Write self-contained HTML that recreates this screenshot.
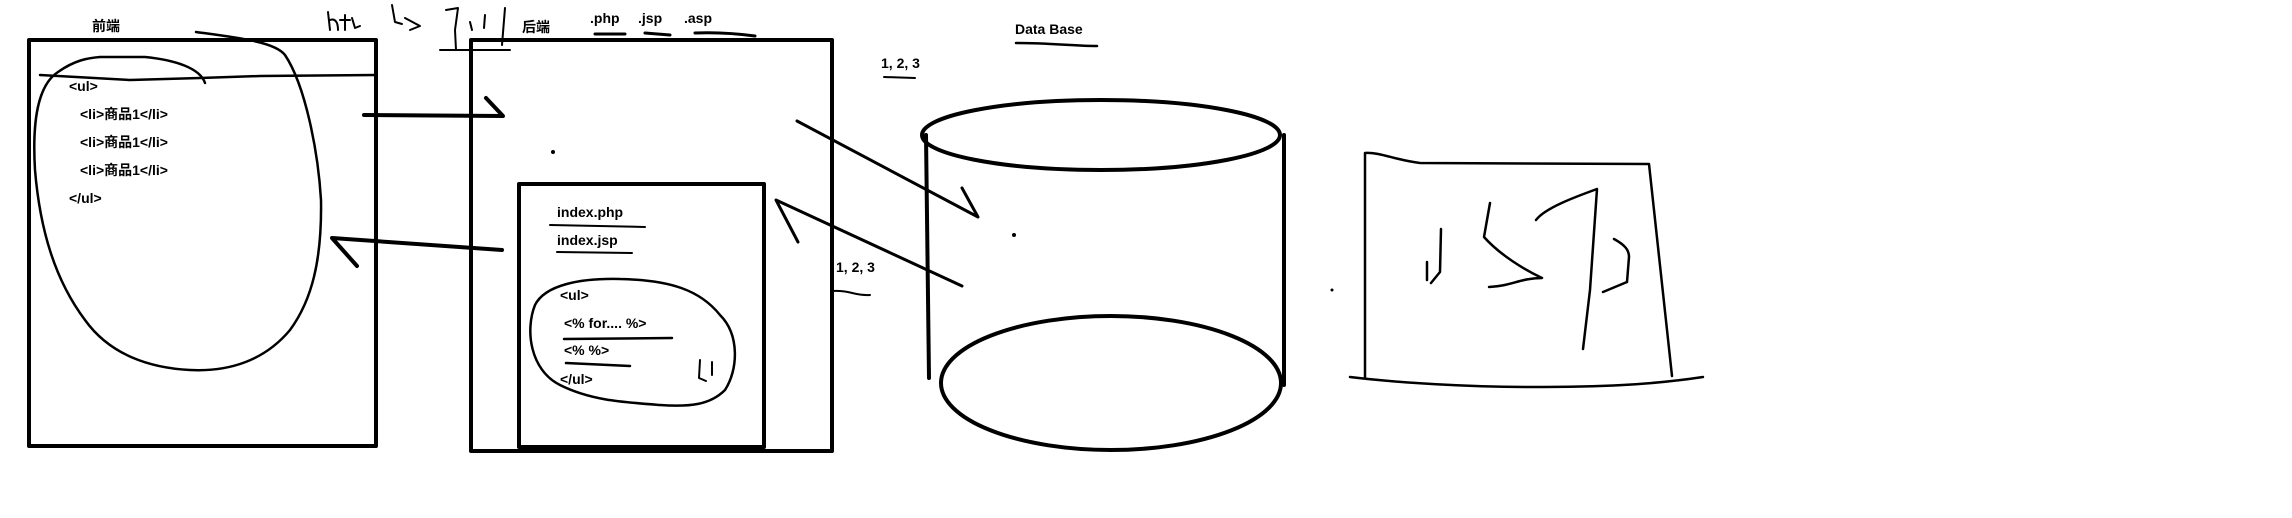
<!DOCTYPE html>
<html><head><meta charset="utf-8"><style>
html,body{margin:0;padding:0;background:#fff;width:2292px;height:518px;overflow:hidden}
svg{display:block}
text{font-family:"Liberation Sans","Noto Sans CJK SC",sans-serif;font-size:14px;font-weight:bold;fill:#000}
</style></head><body>
<svg width="2292" height="518" viewBox="0 0 2292 518" fill="none" stroke="#000" stroke-linecap="round" stroke-linejoin="round">
<!-- frontend -->
<g>
<rect x="29" y="40" width="347" height="406" stroke-width="4"/>
<path d="M40 75 L130 80 L200 78 L260 76 L376 75" stroke-width="2.5"/>
<text x="92" y="31" stroke="none">前端</text>
<text x="69" y="91" stroke="none">&lt;ul&gt;</text>
<text x="80" y="119" stroke="none">&lt;li&gt;商品1&lt;/li&gt;</text>
<text x="80" y="147" stroke="none">&lt;li&gt;商品1&lt;/li&gt;</text>
<text x="80" y="175" stroke="none">&lt;li&gt;商品1&lt;/li&gt;</text>
<text x="69" y="203" stroke="none">&lt;/ul&gt;</text>
<path stroke-width="2.5" d="M196 32 C240 38 275 42 285 55 C305 85 318 150 321 200 C322 260 312 300 290 330 C265 360 230 372 190 370 C150 368 110 355 85 320 C55 280 40 230 35 170 C32 120 38 85 58 72 C75 60 88 58 100 57 L145 57 C175 60 200 68 205 83"/>
</g>
<!-- handwritten scribble -->
<g stroke-width="2">
<path d="M328 12 L330 30 M330 20 C335 18 338 22 338 30 M345 15 L345 30 M340 20 L350 20 M352 18 L355 28 L360 26"/>
<path d="M392 5 L395 22 L402 24 M405 18 L420 26 L410 30"/>
<path d="M446 10 L458 8 L455 30 L456 50 M440 50 L510 50 M470 22 L472 30 M485 15 L484 28 M505 8 L502 45"/>
</g>
<!-- backend -->
<g>
<rect x="471" y="40" width="361" height="411" stroke-width="4"/>
<text x="522" y="32" stroke="none">后端</text>
<text x="590" y="23" stroke="none">.php</text>
<text x="638" y="23" stroke="none">.jsp</text>
<text x="684" y="23" stroke="none">.asp</text>
<path d="M595 34 L625 34 M645 33 L670 35 M695 33 C720 32 740 34 755 36" stroke-width="3"/>
<circle cx="553" cy="152" r="2" fill="#000" stroke="none"/>
<rect x="519" y="184" width="245" height="263" stroke-width="4"/>
<text x="557" y="217" stroke="none">index.php</text>
<path d="M550 225 L645 227" stroke-width="2"/>
<text x="557" y="245" stroke="none">index.jsp</text>
<path d="M557 252 L632 253" stroke-width="2"/>
<path stroke-width="2.5" d="M620 279 C670 280 700 290 720 315 C740 335 738 370 725 390 C710 405 690 407 660 405 C620 402 590 400 560 385 C530 370 525 330 535 305 C545 285 580 278 620 279"/>
<text x="560" y="300" stroke="none">&lt;ul&gt;</text>
<text x="564" y="328" stroke="none">&lt;% for.... %&gt;</text>
<path d="M564 339 L672 338" stroke-width="2.5"/>
<text x="564" y="355" stroke="none">&lt;% %&gt;</text>
<path d="M566 363 L630 366" stroke-width="2.5"/>
<text x="560" y="384" stroke="none">&lt;/ul&gt;</text>
<path d="M700 360 L699 378 L706 381 M712 362 L712 375" stroke-width="2"/>
</g>
<!-- arrows -->
<g stroke-width="4">
<path d="M364 115 L503 116 L486 98"/>
</g>
<g stroke-width="4">
<path d="M502 250 L332 238 L357 266"/>
</g>
<g stroke-width="3">
<path d="M797 121 L978 217 L962 188"/>
<path d="M962 286 L776 200 L798 242"/>
</g>
<text x="881" y="68" stroke="none">1, 2, 3</text>
<path d="M884 77 L915 78" stroke-width="2"/>
<text x="836" y="272" stroke="none">1, 2, 3</text>
<path d="M832 291 C850 290 855 296 870 295" stroke-width="2"/>
<!-- database -->
<g stroke-width="4">
<text x="1015" y="34" stroke="none" stroke-width="0">Data Base</text>
<path d="M1016 43 C1050 43 1075 46 1097 46" stroke-width="2.5"/>
<ellipse cx="1101" cy="135" rx="179" ry="35"/>
<path d="M926 135 L929 378 M1284 135 L1284 385"/>
<ellipse cx="1111" cy="383" rx="170" ry="67"/>
<circle cx="1014" cy="235" r="2" fill="#000" stroke="none"/>
</g>
<circle cx="1332" cy="290" r="1.5" fill="#000" stroke="none"/>
<!-- jsp sketch -->
<g stroke-width="2.5">
<path d="M1365 153 L1365 378 M1365 153 C1380 152 1395 160 1420 163 L1649 164 L1672 376"/>
<path d="M1350 377 C1400 383 1470 387 1530 387 C1600 387 1650 385 1703 377"/>
<path d="M1441 229 L1440 272 L1431 283 M1427 262 L1427 280"/>
<path d="M1490 203 L1484 237 C1500 255 1525 270 1542 278 C1520 278 1512 286 1489 287"/>
<path d="M1597 189 L1590 290 L1583 349 M1597 189 C1575 197 1545 208 1536 220"/>
<path d="M1614 239 C1625 245 1629 250 1629 257 L1627 282 L1603 292"/>
</g>
</svg>
</body></html>
